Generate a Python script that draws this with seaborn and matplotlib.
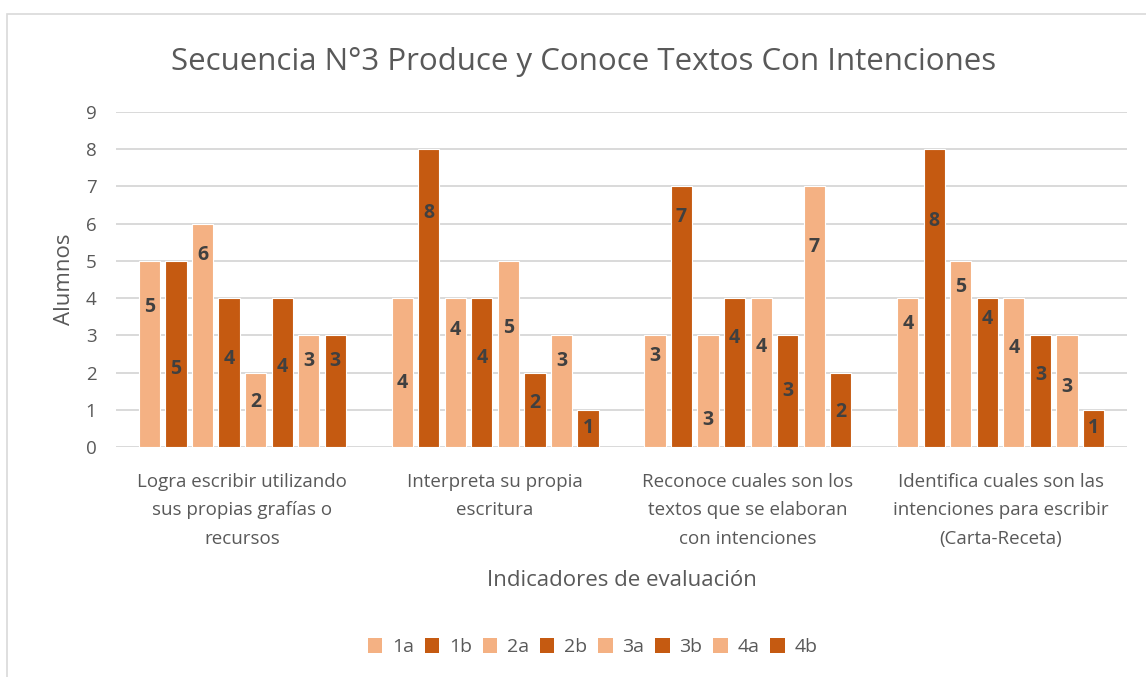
import pandas as pd
import matplotlib
matplotlib.use('Agg')
import matplotlib.pyplot as plt
import seaborn as sns
from matplotlib.patches import Rectangle, Patch

# Data
categories = [
    'Logra escribir utilizando\nsus propias grafías o\nrecursos',
    'Interpreta su propia\nescritura',
    'Reconoce cuales son los\ntextos que se elaboran\ncon intenciones',
    'Identifica cuales son las\nintenciones para escribir\n(Carta-Receta)',
]
series = ['1a', '1b', '2a', '2b', '3a', '3b', '4a', '4b']
values = {
    '1a': [5, 4, 3, 4],
    '1b': [5, 8, 7, 8],
    '2a': [6, 4, 3, 5],
    '2b': [4, 4, 4, 4],
    '3a': [2, 5, 4, 4],
    '3b': [4, 2, 3, 3],
    '4a': [3, 3, 7, 3],
    '4b': [3, 1, 2, 1],
}
# data labels were dragged by hand in the original, heights in axis units
label_heights = {
    '1a': [3.76, 1.71, 2.44, 3.31],
    '1b': [2.10, 6.28, 6.17, 6.06],
    '2a': [5.16, 3.14, 0.72, 4.29],
    '2b': [2.37, 2.38, 2.94, 3.44],
    '3a': [1.21, 3.21, 2.69, 2.66],
    '3b': [2.15, 1.17, 1.51, 1.93],
    '4a': [2.31, 2.31, 5.38, 1.61],
    '4b': [2.31, 0.50, 0.95, 0.50],
}

light = '#F4B183'
dark = '#C55A11'
colors = [light if s.endswith('a') else dark for s in series]

rows = []
for s in series:
    for c, v in zip(categories, values[s]):
        rows.append({'categoria': c, 'grupo': s, 'alumnos': v})
df = pd.DataFrame(rows)

sns.set_theme(style='white')
plt.rcParams['font.family'] = ['Open Sans', 'DejaVu Sans']

fig = plt.figure(figsize=(11.46, 6.77), dpi=100)
ax = fig.add_axes([0.1012, 0.3397, 0.8822, 0.4949])

sns.barplot(data=df, x='categoria', y='alumnos', hue='grupo', palette=colors,
            order=categories, hue_order=series, width=0.84, gap=0.2, saturation=1,
            edgecolor='white', linewidth=0.8, legend=False, ax=ax)

for s, cont in zip(series, ax.containers):
    for bar, v, h in zip(cont, values[s], label_heights[s]):
        ax.text(bar.get_x() + bar.get_width() / 2, h, str(v), ha='center', va='center',
                fontsize=14, fontweight='bold', color='#404040')

ax.set_ylim(0, 9)
ax.set_yticks(range(0, 10))
ax.yaxis.grid(True, color='#D9D9D9', linewidth=1.4)
ax.set_axisbelow(True)
for sp in ax.spines.values():
    sp.set_visible(False)
ax.tick_params(axis='both', length=0, colors='#595959', labelsize=13.5)
ax.tick_params(axis='x', pad=19)
ax.tick_params(axis='y', pad=14)
for lab in ax.get_xticklabels():
    lab.set_linespacing(1.72)

ax.set_xlabel('Indicadores de evaluación', fontsize=16, color='#595959', labelpad=16)
ax.set_ylabel('Alumnos', fontsize=16, color='#595959', labelpad=8)

fig.text(0.509, 0.908, 'Secuencia N°3 Produce y Conoce Textos Con Intenciones',
         ha='center', va='center', fontsize=22.5, color='#595959')

handles = [Patch(facecolor=c, edgecolor='none') for c in colors]
fig.legend(handles, series, loc='center', bbox_to_anchor=(0.517, 0.044), ncol=8,
           frameon=False, fontsize=14, labelcolor='#595959', handlelength=0.75,
           handleheight=0.75, handletextpad=0.5, columnspacing=0.55)

# light chart border like the spreadsheet frame
fig.patches.append(Rectangle((0.006, -0.01), 1.0, 0.99, transform=fig.transFigure,
                             fill=False, edgecolor='#D9D9D9', linewidth=1.2))

fig.savefig('out.png', dpi=100)
